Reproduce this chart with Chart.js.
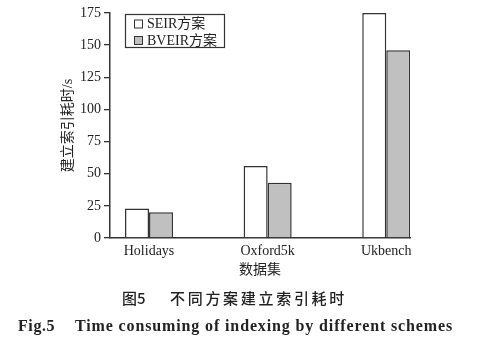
<!DOCTYPE html>
<html>
<head>
<meta charset="utf-8">
<script src="https://cdn.jsdelivr.net/npm/chart.js@4"></script>
<style>
  body { margin: 0; background: #fff; }
  #wrap { position: relative; width: 479px; height: 351px; }
  canvas { position: absolute; left: 0; top: 0; }
  .cap { position: absolute; white-space: nowrap; color: #222; }
  #capCn1 { left: 122px; top: 287px; font: 500 15px "Noto Sans CJK SC"; }
  #capCn2 { left: 170px; top: 287px; font: 500 15px "Noto Sans CJK SC"; letter-spacing: 2.7px; }
  #capEn1 { left: 18px; top: 317px; font: bold 16px "Liberation Serif"; letter-spacing: 0.6px; }
  #capEn2 { left: 75px; top: 317px; font: bold 16px "Liberation Serif"; letter-spacing: 0.87px; }
</style>
</head>
<body>
<div id="wrap">
  <canvas id="chart" width="479" height="351"></canvas>
  <div class="cap" id="capCn1">图5</div>
  <div class="cap" id="capCn2">不同方案建立索引耗时</div>
  <div class="cap" id="capEn1">Fig.5</div>
  <div class="cap" id="capEn2">Time consuming of indexing by different schemes</div>
</div>
<script>
// data
const datasets = ['Holidays', 'Oxford5k', 'Ukbench'];
const seirTimes = [23, 56, 175];
const bveirTimes = [20, 43, 146];
const seriesNames = ['SEIR方案', 'BVEIR方案'];
const yTicks = [0, 25, 50, 75, 100, 125, 150, 175];

const serif = 'Liberation Serif, Noto Sans CJK SC';
const edge = '#333';

// legend drawn as a framed box inside the plot, like the original
const boxLegend = {
  id: 'boxLegend',
  afterDraw(chart) {
    const ctx = chart.ctx;
    const x = 125, y = 14, w = 99, h = 33;
    ctx.save();
    ctx.strokeStyle = edge;
    ctx.lineWidth = 1.2;
    ctx.strokeRect(x + 0.5, y + 0.5, w, h);
    ctx.font = '14px ' + serif;
    ctx.textBaseline = 'middle';
    chart.data.datasets.forEach((ds, i) => {
      const cy = y + 9.5 + i * 16.5;
      ctx.fillStyle = ds.backgroundColor;
      ctx.fillRect(134, cy - 4, 8, 8);
      ctx.strokeStyle = edge;
      ctx.lineWidth = 1;
      ctx.strokeRect(134.5, cy - 3.5, 8, 8);
      ctx.fillStyle = '#222';
      ctx.fillText(ds.label, 147, cy + 1);
    });
    ctx.restore();
  }
};

const ctx = document.getElementById('chart').getContext('2d');
new Chart(ctx, {
  type: 'bar',
  data: {
    datasets: [
      {
        label: seriesNames[0],
        data: seirTimes.map((v, i) => ({ x: i + 1, y: v })),
        backgroundColor: '#ffffff',
        borderColor: edge,
        borderWidth: 1.5
      },
      {
        label: seriesNames[1],
        data: bveirTimes.map((v, i) => ({ x: i + 1, y: v })),
        backgroundColor: '#c0c0c0',
        borderColor: edge,
        borderWidth: 1.5
      }
    ]
  },
  options: {
    responsive: false,
    animation: false,
    layout: { padding: { left: 0, top: 13, right: 69, bottom: 0 } },
    datasets: { bar: { barPercentage: 1, categoryPercentage: 0.405 } },
    plugins: {
      legend: { display: false },
      tooltip: { enabled: false }
    },
    scales: {
      x: {
        type: 'linear',
        offset: false,
        min: 0.671,
        max: 3.2,
        afterBuildTicks: s => { s.ticks = datasets.map((d, i) => ({ value: i + 1 })); },
        afterFit: s => { s.height = 113; },
        ticks: {
          padding: 5,
          color: '#222',
          font: { family: serif, size: 14 },
          callback: v => datasets[v - 1]
        },
        grid: { drawOnChartArea: false, drawTicks: false, offset: false },
        border: { color: edge, width: 1.5 },
        title: {
          display: true,
          text: '数据集',
          color: '#222',
          font: { family: serif, size: 14 },
          padding: { top: 0, bottom: 72 }
        }
      },
      y: {
        min: 0,
        max: 175,
        afterBuildTicks: s => { s.ticks = yTicks.map(v => ({ value: v })); },
        afterFit: s => { s.width = 110; },
        ticks: {
          padding: 3,
          color: '#222',
          font: { family: serif, size: 14 }
        },
        grid: { drawOnChartArea: false, tickLength: 6, color: edge, lineWidth: 1.3 },
        border: { color: edge, width: 1.5 },
        title: {
          display: true,
          text: '建立索引耗时/s',
          color: '#222',
          font: { family: serif, size: 14 },
          padding: { top: 60, bottom: 0 }
        }
      }
    }
  },
  plugins: [boxLegend]
});
</script>
</body>
</html>
